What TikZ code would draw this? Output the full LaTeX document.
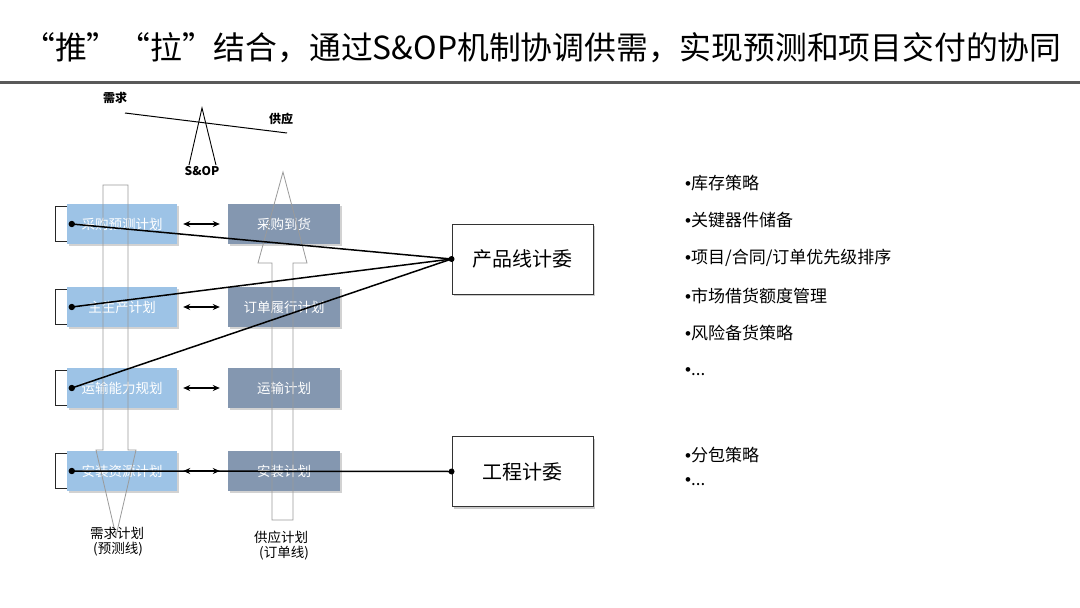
\documentclass[tikz,border=0pt]{standalone}
\usepackage{fontspec}
\setmainfont{Noto Sans CJK SC}
\newfontfamily\bulletfont{Liberation Sans}
\usetikzlibrary{shadows,arrows.meta}
\definecolor{bluebox}{HTML}{9DC3E6}
\definecolor{graybox}{HTML}{8497B0}
\definecolor{rulegray}{HTML}{595959}
\definecolor{arrowgray}{HTML}{9A9A9A}
\newcommand{\bul}{{\bulletfont •}}
\tikzset{
  planbox/.style={minimum width=110pt, minimum height=40pt, inner sep=0pt,
    text=white, font=\fontsize{13.5}{15}\selectfont,
    drop shadow={shadow xshift=1.5pt, shadow yshift=-1.5pt, fill=black!35, opacity=.5}},
  demandbox/.style={planbox, fill=bluebox},
  supplybox/.style={planbox, fill=graybox, minimum width=112pt},
  committee/.style={draw=black!80, line width=0.9pt, fill=white, minimum width=141pt,
    minimum height=70pt, inner sep=0pt, font=\fontsize{20}{22}\selectfont,
    drop shadow={shadow xshift=2pt, shadow yshift=-2pt, fill=black!40, opacity=.5}},
  hollowarrow/.style={draw=arrowgray, line width=0.8pt},
  conn/.style={draw=black, line width=1.5pt},
  dbl/.style={{Stealth[length=7pt,width=6pt]}-{Stealth[length=7pt,width=6pt]}, line width=1.2pt, black},
  bracketline/.style={draw=black!85, line width=1pt},
  bullet/.style={anchor=west, inner sep=0pt, font=\fontsize{17}{19}\selectfont},
  lbl/.style={inner sep=0pt, font=\fontsize{13.5}{15}\selectfont},
  bal/.style={inner sep=0pt, font=\fontsize{12}{14}\selectfont\bfseries},
  dot/.style={fill=black}
}
\begin{document}
\begin{tikzpicture}[x=1pt,y=-1pt]
\useasboundingbox (0,0) rectangle (1080,608);
\fill[white] (0,0) rectangle (1080,608);

% title and rule
\node[anchor=west, inner sep=0pt, font=\fontsize{31.8}{34}\selectfont] (title) at (23,48)
  {“推”“拉”结合，通过S\&OP机制协调供需，实现预测和项目交付的协同};
\coordinate (ruleL) at (0,82);
\coordinate (ruleR) at (1080,82);
\draw[rulegray, line width=3pt] (ruleL) -- (ruleR);

% balance
\coordinate (beamL) at (125,113);
\coordinate (beamR) at (287,133);
\draw[black, line width=1pt] (beamL) -- (beamR);
\coordinate (triA) at (202,108);
\coordinate (triL) at (189,165);
\coordinate (triR) at (216,165);
\draw[black, line width=0.9pt] (triL) -- (triA) -- (triR);
\node[bal] (xuqiu) at (115,98) {需求};
\node[bal] (gongying) at (281,119) {供应};
\node[bal] (sop) at (202,171) {S\&OP};

% plan boxes
\node[demandbox] (b1) at (122,224) {采购预测计划};
\node[demandbox] (b2) at (122,307) {主生产计划};
\node[demandbox] (b3) at (122,388) {运输能力规划};
\node[demandbox] (b4) at (122,471) {安装资源计划};
\node[supplybox] (g1) at (284,224) {采购到货};
\node[supplybox] (g2) at (284,307) {订单履行计划};
\node[supplybox] (g3) at (284,388) {运输计划};
\node[supplybox] (g4) at (284,471) {安装计划};

% brackets
\foreach \b in {b1,b2,b3,b4}{
  \draw[bracketline] ([yshift=-3pt]\b.north west) -- ++(-11pt,0pt) |- ([yshift=3pt]\b.south west);
}

% double arrows
\foreach \i in {1,2,3,4}{
  \draw[dbl] ([xshift=6pt]b\i.east) -- ([xshift=-8pt]g\i.west);
}

% hollow big arrows
\draw[hollowarrow] (103,185) -- (103,450) -- (96,450) -- (116,536) -- (136,450) -- (128,450) -- (128,185) -- cycle;
\draw[hollowarrow] (272,520) -- (272,263) -- (258,263) -- (283,172) -- (307,263) -- (293,263) -- (293,520) -- cycle;

% bottom labels
\node[lbl] (dl1) at (117,533) {需求计划};
\node[lbl] (dl2) at (118,549) {(预测线)};
\node[lbl] (sl1) at (281,537) {供应计划};
\node[lbl] (sl2) at (284,553) {(订单线)};

% committees
\node[committee] (pl) at (522.5,259) {产品线计委};
\node[committee] (eng) at (522.5,471.5) {工程计委};

% connectors
\foreach \i in {1,2,3,4}{
  \coordinate (d\i) at ([xshift=5pt]b\i.west);
}
\draw[conn] (d1) -- (pl.west);
\draw[conn] (d2) -- (pl.west);
\draw[conn] (d3) -- (pl.west);
\draw[conn] (d4) -- (eng.west);
\foreach \p in {d1,d2,d3,d4}{ \fill[dot] (\p) circle (3.2pt); }
\fill[dot] (pl.west) circle (3pt);
\fill[dot] (eng.west) circle (3pt);

% bullet lists
\node[bullet] (l1) at (685,183) {\bul 库存策略};
\node[bullet] (l2) at (685,220) {\bul 关键器件储备};
\node[bullet] (l3) at (685,258) {\bul 项目/合同/订单优先级排序};
\node[bullet] (l4) at (685,296) {\bul 市场借货额度管理};
\node[bullet] (l5) at (685,333) {\bul 风险备货策略};
\node[bullet] (l6) at (685,372) {\bul ...};
\node[bullet] (m1) at (685,455) {\bul 分包策略};
\node[bullet] (m2) at (685,482) {\bul ...};
\end{tikzpicture}
\end{document}
